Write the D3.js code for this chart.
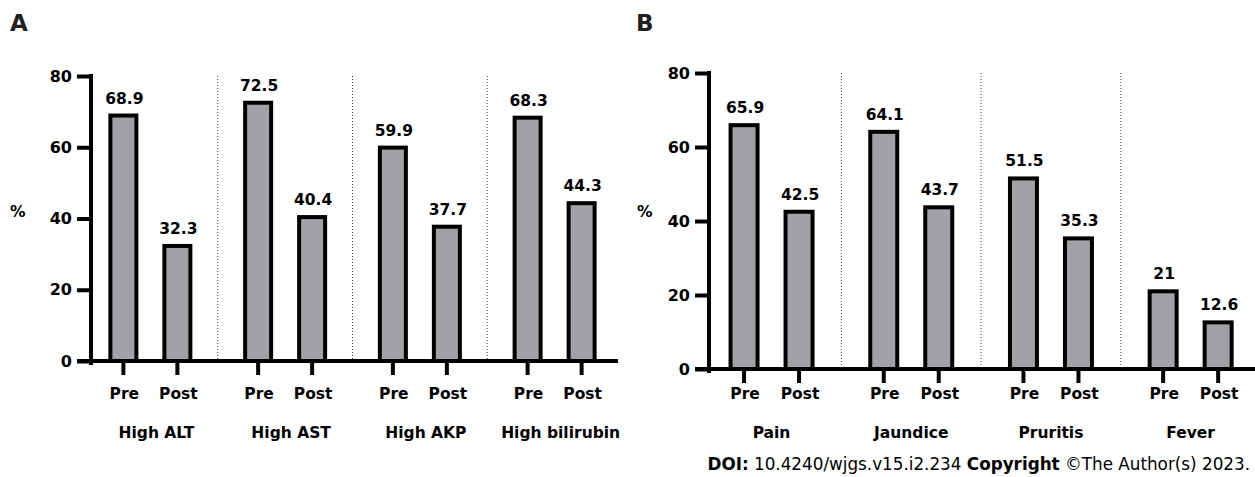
<!DOCTYPE html>
<html>
<head>
<meta charset="utf-8">
<script src="https://cdn.jsdelivr.net/npm/d3@7"></script>
<style>
  body { margin: 0; background: #fff; }
  svg { display: block; font-family: "DejaVu Sans", Verdana, sans-serif; }
</style>
</head>
<body>
<svg id="chart" width="1255" height="477"></svg>
<script>
// --- data ---
const groupsA = ["High ALT", "High AST", "High AKP", "High bilirubin"];
const preA = [68.9, 72.5, 59.9, 68.3];
const postA = [32.3, 40.4, 37.7, 44.3];

const groupsB = ["Pain", "Jaundice", "Pruritis", "Fever"];
const preB = [65.9, 64.1, 51.5, 21];
const postB = [42.5, 43.7, 35.3, 12.6];

const phases = ["Pre", "Post"];
const yTicks = [0, 20, 40, 60, 80];

const svg = d3.select("#chart");
const BAR_FILL = "#a2a1a6";
const INK = "#000";

function drawPanel(p) {
    const g = svg.append("g");
    const y = d3.scaleLinear().domain([0, 80]).range([p.y0, p.y80]);
    const x = d3.scaleBand().domain(p.groups).range(p.xRange).padding(0);
    const step = x.bandwidth();
    const inner = d3.scalePoint().domain(phases).range([step / 2 - p.half, step / 2 + p.half]);

    const rows = [];
    p.groups.forEach((grp, i) => {
        rows.push({ grp, phase: "Pre", v: p.pre[i] });
        rows.push({ grp, phase: "Post", v: p.post[i] });
    });
    const cx = d => x(d.grp) + inner(d.phase);

    // dotted separators between groups
    g.selectAll("line.sep").data(p.groups.slice(1)).enter().append("line")
        .attr("x1", d => x(d)).attr("x2", d => x(d))
        .attr("y1", y(80)).attr("y2", y(0))
        .attr("stroke", "#444").attr("stroke-width", 1).attr("stroke-dasharray", "1,2");

    // bars
    g.selectAll("rect.bar").data(rows).enter().append("rect")
        .attr("x", d => cx(d) - p.barW / 2)
        .attr("width", p.barW)
        .attr("y", d => y(d.v))
        .attr("height", d => y(0) - y(d.v))
        .attr("fill", BAR_FILL).attr("stroke", INK).attr("stroke-width", 4);

    // value labels
    g.selectAll("text.val").data(rows).enter().append("text")
        .attr("x", d => cx(d) + 1).attr("y", d => y(d.v) - 12)
        .attr("text-anchor", "middle").attr("font-weight", "bold").attr("font-size", "15.5px")
        .text(d => d.v);

    // y axis
    const yAxis = g.append("g").attr("transform", `translate(${p.xAxis},0)`)
        .call(d3.axisLeft(y).tickValues(yTicks).tickSize(14).tickPadding(5).tickSizeOuter(0));
    yAxis.select(".domain").attr("stroke-width", 4).attr("stroke", INK)
        .attr("d", `M0,${y(80) - 2}V${y(0) + 4}`);
    yAxis.selectAll(".tick line").attr("stroke-width", 4).attr("stroke", INK);
    yAxis.selectAll(".tick text").attr("font-size", "16px").attr("font-weight", "bold")
        .attr("font-family", "DejaVu Sans, sans-serif").attr("fill", INK);

    // x axis baseline
    g.append("line").attr("x1", p.xAxis - 14).attr("x2", p.xEnd)
        .attr("y1", y(0)).attr("y2", y(0)).attr("stroke", INK).attr("stroke-width", 4);

    // phase ticks
    g.selectAll("line.ptick").data(rows).enter().append("line")
        .attr("x1", cx).attr("x2", cx).attr("y1", y(0)).attr("y2", y(0) + 14)
        .attr("stroke", INK).attr("stroke-width", 4);

    g.selectAll("text.phase").data(rows).enter().append("text")
        .attr("x", d => cx(d) + 1).attr("y", 399)
        .attr("text-anchor", "middle").attr("font-weight", "bold").attr("font-size", "15.5px")
        .text(d => d.phase);

    g.selectAll("text.grp").data(p.groups).enter().append("text")
        .attr("x", d => x(d) + step / 2 + p.grpShift).attr("y", 438)
        .attr("text-anchor", "middle").attr("font-weight", "bold").attr("font-size", "15.5px")
        .text(d => d);

    // axis title and panel letter
    g.append("text").attr("x", p.pctX).attr("y", 217)
        .attr("font-weight", "bold").attr("font-size", "15.5px").text("%");
    g.append("text").attr("x", p.letterX).attr("y", 31)
        .attr("font-weight", "bold").attr("font-size", "23px").attr("fill", "#231f20").text(p.letter);
}

drawPanel({
    letter: "A", letterX: 10, pctX: 10,
    groups: groupsA, pre: preA, post: postA,
    y0: 361, y80: 76, xAxis: 91, xEnd: 618,
    xRange: [83, 622], half: 27, barW: 26, grpShift: 6
});

drawPanel({
    letter: "B", letterX: 636, pctX: 637,
    groups: groupsB, pre: preB, post: postB,
    y0: 369, y80: 73, xAxis: 709, xEnd: 1255,
    xRange: [701.7, 1260.5], half: 27.5, barW: 27, grpShift: 0
});

// source line
const doi = svg.append("text").attr("x", 1250).attr("y", 470)
    .attr("text-anchor", "end").attr("font-size", "16.8px").attr("fill", "#000");
doi.append("tspan").attr("font-weight", "bold").text("DOI:");
doi.append("tspan").text(" 10.4240/wjgs.v15.i2.234 ");
doi.append("tspan").attr("font-weight", "bold").text("Copyright");
doi.append("tspan").text(" \u00A9The Author(s) 2023.");
</script>
</body>
</html>
